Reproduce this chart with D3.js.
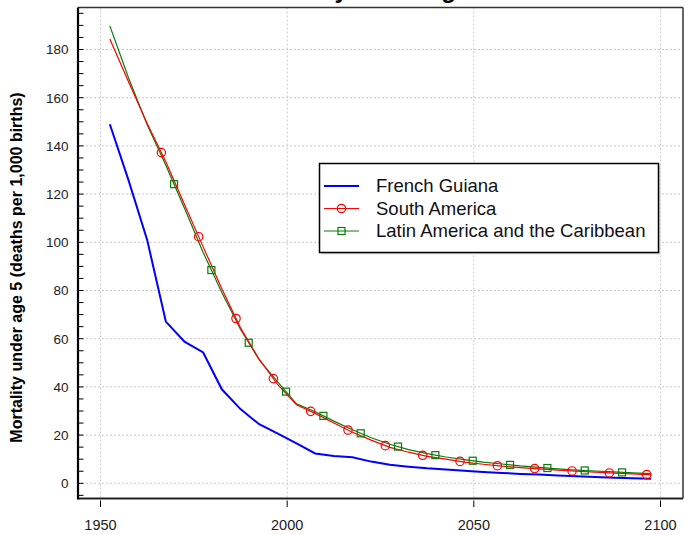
<!DOCTYPE html>
<html>
<head>
<meta charset="utf-8">
<script src="https://cdn.jsdelivr.net/npm/d3@7"></script>
<style>
  body { margin: 0; background: #fff; }
  text { font-family: "Liberation Sans", Arial, sans-serif; }
</style>
</head>
<body>
<div id="chart"></div>
<script>
// period mid-points, 1950-1955 ... 2095-2100
const years = [1952.5, 1957.5, 1962.5, 1967.5, 1972.5, 1977.5, 1982.5, 1987.5, 1992.5, 1997.5,
  2002.5, 2007.5, 2012.5, 2017.5, 2022.5, 2027.5, 2032.5, 2037.5, 2042.5, 2047.5,
  2052.5, 2057.5, 2062.5, 2067.5, 2072.5, 2077.5, 2082.5, 2087.5, 2092.5, 2097.5]

const frenchGuiana = [149.0, 125.8, 101.0, 67.1, 58.8, 54.3, 39.0, 30.8, 24.5, 20.6,
  16.6, 12.4, 11.3, 10.8, 9.0, 7.7, 6.9, 6.2, 5.7, 5.2,
  4.7, 4.3, 3.9, 3.6, 3.2, 2.9, 2.6, 2.3, 2.1, 1.9]

const southAmerica = [184.4, 166.6, 149.3, 133.4, 115.7, 98.1, 80.7, 64.5, 51.5, 40.9,
  32.6, 29.0, 25.0, 21.2, 17.9, 14.9, 12.9, 11.2, 10.0, 8.8,
  7.9, 7.1, 6.5, 6.0, 5.5, 5.0, 4.6, 4.2, 3.9, 3.5]

const latinAmerica = [189.8, 168.3, 148.8, 132.0, 114.1, 95.8, 79.2, 63.9, 51.2, 42.0,
  33.0, 29.7, 25.8, 22.2, 18.9, 16.2, 14.0, 12.3, 10.9, 9.8,
  8.8, 8.0, 7.2, 6.6, 6.0, 5.5, 5.1, 4.7, 4.3, 4.0]

const southAmericaMarkerYears = [1966.3, 1976.3, 1986.3, 1996.3, 2006.3, 2016.3, 2026.3,
  2036.3, 2046.3, 2056.3, 2066.3, 2076.3, 2086.3, 2096.3]
const latinAmericaMarkerYears = [1969.7, 1979.7, 1989.7, 1999.7, 2009.7, 2019.7, 2029.7,
  2039.7, 2049.7, 2059.7, 2069.7, 2079.7, 2089.7]

const xTicks = [1950, 2000, 2050, 2100]
const yTicks = [0, 20, 40, 60, 80, 100, 120, 140, 160, 180]
const yMinorTicks = d3.range(-5, 196, 5)

const seriesNames = ["French Guiana", "South America", "Latin America and the Caribbean"]

const svgWidth = 695
const svgHeight = 535
const plotLeft = 78, plotRight = 683, plotTop = 7.5, plotBottom = 498.5

const svg = d3.select("#chart").append("svg")
  .attr("width", svgWidth)
  .attr("height", svgHeight)

const x = d3.scaleLinear().domain([1950, 2100]).range([100.5, 660.5])
const y = d3.scaleLinear().domain([0, 180]).range([483.3, 49.5])

// grid
svg.append("g")
  .selectAll("line")
  .data(xTicks)
  .enter()
  .append("line")
  .attr("x1", d => x(d)).attr("x2", d => x(d))
  .attr("y1", plotTop).attr("y2", plotBottom)
  .attr("stroke", "#c8c8c8")
  .attr("stroke-dasharray", "2,2")

svg.append("g")
  .selectAll("line")
  .data(yTicks)
  .enter()
  .append("line")
  .attr("x1", plotLeft).attr("x2", plotRight)
  .attr("y1", d => y(d)).attr("y2", d => y(d))
  .attr("stroke", "#c8c8c8")
  .attr("stroke-dasharray", "2,2")

// frame
svg.append("line").attr("x1", plotLeft).attr("x2", plotRight).attr("y1", plotTop).attr("y2", plotTop)
  .attr("stroke", "#333").attr("stroke-width", 1.5)
svg.append("line").attr("x1", plotRight).attr("x2", plotRight).attr("y1", plotTop).attr("y2", plotBottom)
  .attr("stroke", "#333").attr("stroke-width", 1.5)
svg.append("line").attr("x1", plotLeft).attr("x2", plotRight).attr("y1", plotBottom).attr("y2", plotBottom)
  .attr("stroke", "#222").attr("stroke-width", 1.8)
svg.append("line").attr("x1", plotLeft).attr("x2", plotLeft).attr("y1", plotTop).attr("y2", plotBottom + 1)
  .attr("stroke", "#000").attr("stroke-width", 2.2)

// y axis: inward ticks every 5, labels every 20
svg.append("g")
  .selectAll("line")
  .data(yMinorTicks)
  .enter()
  .append("line")
  .attr("x1", plotLeft).attr("x2", plotLeft + 5.5)
  .attr("y1", d => y(d)).attr("y2", d => y(d))
  .attr("stroke", "#000").attr("stroke-width", 1)

svg.append("g")
  .selectAll("text")
  .data(yTicks)
  .enter()
  .append("text")
  .attr("x", 68.5)
  .attr("y", d => y(d))
  .attr("dy", "0.36em")
  .attr("text-anchor", "end")
  .attr("font-size", "13.5px")
  .attr("fill", "#222")
  .text(d => d)

// x axis: outward ticks below the frame
svg.append("g")
  .selectAll("line")
  .data(xTicks)
  .enter()
  .append("line")
  .attr("x1", d => x(d)).attr("x2", d => x(d))
  .attr("y1", plotBottom + 2).attr("y2", plotBottom + 8.5)
  .attr("stroke", "#000").attr("stroke-width", 1)

svg.append("g")
  .selectAll("text")
  .data(xTicks)
  .enter()
  .append("text")
  .attr("x", d => x(d))
  .attr("y", 530)
  .attr("text-anchor", "middle")
  .attr("font-size", "14.5px")
  .attr("fill", "#222")
  .text(d => d)

// titles (the main title sits mostly above the visible area, as in the source)
svg.append("text")
  .attr("x", 368.5)
  .attr("y", -2)
  .attr("text-anchor", "middle")
  .attr("font-size", "24px")
  .attr("font-weight", "bold")
  .text("Mortality under age 5")

svg.append("text")
  .attr("transform", "translate(22,267.5) rotate(-90)")
  .attr("text-anchor", "middle")
  .attr("font-size", "16px")
  .attr("font-weight", "bold")
  .text("Mortality under age 5 (deaths per 1,000 births)")

// lines
const lineGen = d3.line()
  .x((d, i) => x(years[i]))
  .y(d => y(d))

const fgPath = svg.append("path")
  .datum(frenchGuiana)
  .attr("d", lineGen)
  .attr("fill", "none")
  .attr("stroke", "#0000ff")
  .attr("stroke-width", 2)

const laPath = svg.append("path")
  .datum(latinAmerica)
  .attr("d", lineGen)
  .attr("fill", "none")
  .attr("stroke", "#0a7a0a")
  .attr("stroke-width", 1.2)

const saPath = svg.append("path")
  .datum(southAmerica)
  .attr("d", lineGen)
  .attr("fill", "none")
  .attr("stroke", "#ff0000")
  .attr("stroke-width", 1.2)

function pointAtX(pathNode, targetX) {
  let lo = 0, hi = pathNode.getTotalLength()
  for (let i = 0; i < 40; i++) {
    let mid = (lo + hi) / 2
    if (pathNode.getPointAtLength(mid).x < targetX) lo = mid
    else hi = mid
  }
  return pathNode.getPointAtLength(lo)
}

svg.append("g")
  .selectAll("rect")
  .data(latinAmericaMarkerYears)
  .enter()
  .append("rect")
  .each(function (d) {
    let p = pointAtX(laPath.node(), x(d))
    d3.select(this).attr("x", p.x - 3.5).attr("y", p.y - 3.5)
  })
  .attr("width", 7).attr("height", 7)
  .attr("fill", "none")
  .attr("stroke", "#0a7a0a")
  .attr("stroke-width", 1.2)

svg.append("g")
  .selectAll("circle")
  .data(southAmericaMarkerYears)
  .enter()
  .append("circle")
  .each(function (d) {
    let p = pointAtX(saPath.node(), x(d))
    d3.select(this).attr("cx", p.x).attr("cy", p.y)
  })
  .attr("r", 4.2)
  .attr("fill", "none")
  .attr("stroke", "#ff0000")
  .attr("stroke-width", 1.2)

// legend
const legend = svg.append("g").attr("transform", "translate(319.5,163.5)")
legend.append("rect")
  .attr("x", 2).attr("y", 2).attr("width", 339).attr("height", 89)
  .attr("fill", "#ddd")
legend.append("rect")
  .attr("width", 339).attr("height", 89)
  .attr("fill", "#fff")
  .attr("stroke", "#000").attr("stroke-width", 1.5)

const rowY = [22.5, 45, 67.5]
const colors = ["#0000ff", "#ff0000", "#0a7a0a"]

legend.selectAll(".item")
  .data(seriesNames)
  .enter()
  .append("text")
  .attr("x", 56.5)
  .attr("y", (d, i) => rowY[i])
  .attr("dy", "0.35em")
  .attr("font-size", "18.5px")
  .attr("fill", "#111")
  .text(d => d)

legend.selectAll(".sample")
  .data(seriesNames)
  .enter()
  .append("line")
  .attr("x1", 4.5).attr("x2", 39.5)
  .attr("y1", (d, i) => rowY[i]).attr("y2", (d, i) => rowY[i])
  .attr("stroke", (d, i) => colors[i])
  .attr("stroke-width", (d, i) => i === 0 ? 2 : 1.2)

legend.append("circle")
  .attr("cx", 22).attr("cy", rowY[1]).attr("r", 4.2)
  .attr("fill", "none").attr("stroke", colors[1]).attr("stroke-width", 1.2)
legend.append("rect")
  .attr("x", 18.5).attr("y", rowY[2] - 3.5).attr("width", 7).attr("height", 7)
  .attr("fill", "none").attr("stroke", colors[2]).attr("stroke-width", 1.2)
</script>
</body>
</html>
